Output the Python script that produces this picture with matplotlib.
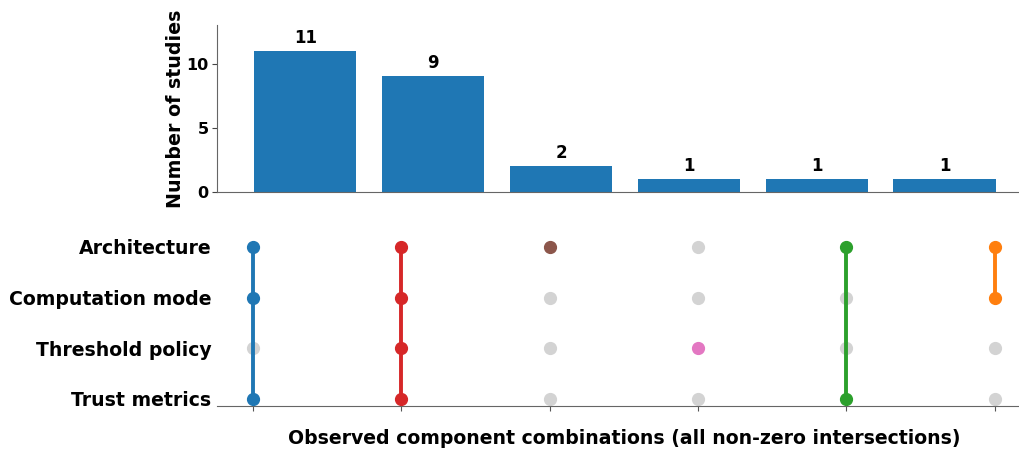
import matplotlib
matplotlib.use("Agg")
import matplotlib.pyplot as plt

# Component sets (top row first in the matrix)
components = ["Architecture", "Computation mode", "Threshold policy", "Trust metrics"]

# Observed combinations: membership per component, study count, and colour
combo_members = [
    ["Architecture", "Computation mode", "Trust metrics"],
    ["Architecture", "Computation mode", "Threshold policy", "Trust metrics"],
    ["Architecture"],
    ["Threshold policy"],
    ["Architecture", "Trust metrics"],
    ["Architecture", "Computation mode"],
]
combo_counts = [11, 9, 2, 1, 1, 1]
combo_colors = ["#1f77b4", "#d62728", "#8c564b", "#e377c2", "#2ca02c", "#ff7f0e"]

plt.rcParams["font.family"] = "DejaVu Sans"
plt.rcParams["font.weight"] = "bold"

fig = plt.figure(figsize=(10.2, 4.5), dpi=100)
W, H = 1020, 450

def box(left, top, right, bottom):
    return [left / W, 1 - bottom / H, (right - left) / W, (bottom - top) / H]

ax_bar = fig.add_axes(box(217, 25, 1020, 192))
ax_mat = fig.add_axes(box(217, 225, 1020, 406))

n = len(combo_counts)
xs = list(range(n))

# --- intersection sizes ---
ax_bar.bar(xs, combo_counts, width=0.8, color="#1f77b4")
for x, v in zip(xs, combo_counts):
    ax_bar.annotate(str(v), (x, v), xytext=(0, 3), textcoords="offset points",
                    ha="center", va="bottom", fontsize=12, fontweight="bold")
ax_bar.set_xlim(-0.69, 5.59)
ax_bar.set_ylim(0, 13)
ax_bar.set_yticks([0, 5, 10])
ax_bar.set_xticks([])
ax_bar.tick_params(axis="y", labelsize=11.5, pad=2.5, colors="#444444", labelcolor="black")
for lab in ax_bar.get_yticklabels():
    lab.set_fontweight("bold")
ax_bar.set_ylabel("Number of studies", fontsize=13.7, fontweight="bold", labelpad=1)
for s in ["top", "right"]:
    ax_bar.spines[s].set_visible(False)
for s in ["left", "bottom"]:
    ax_bar.spines[s].set_color("#666666")

# --- membership matrix ---
ys = {c: len(components) - 1 - i for i, c in enumerate(components)}
for x, members, col in zip(xs, combo_members, combo_colors):
    for c in components:
        if c not in members:
            ax_mat.plot(x, ys[c], "o", color="#d3d3d3", markersize=8.5, zorder=2)
    yy = [ys[c] for c in members]
    if len(yy) > 1:
        ax_mat.plot([x, x], [min(yy), max(yy)], color=col, linewidth=2.8, zorder=3)
    ax_mat.plot([x] * len(yy), yy, "o", color=col, markersize=8.5, zorder=4)

ax_mat.set_xlim(-0.243, 5.17)
ax_mat.set_ylim(-0.138, 3.43)
ax_mat.set_yticks([ys[c] for c in components])
ax_mat.set_yticklabels(components, fontsize=13.6, fontweight="bold")
ax_mat.tick_params(axis="y", length=0, pad=4)
ax_mat.set_xticks(xs)
ax_mat.set_xticklabels([])
ax_mat.tick_params(axis="x", length=3.5, colors="#555555")
for s in ["top", "right", "left"]:
    ax_mat.spines[s].set_visible(False)
ax_mat.spines["bottom"].set_color("#666666")
ax_mat.set_xlabel("Observed component combinations (all non-zero intersections)",
                  fontsize=13.6, fontweight="bold")
ax_mat.xaxis.set_label_coords((624 - 217) / (1020 - 217), -(429 - 406) / (406 - 225))

fig.savefig("out.png", dpi=100)
